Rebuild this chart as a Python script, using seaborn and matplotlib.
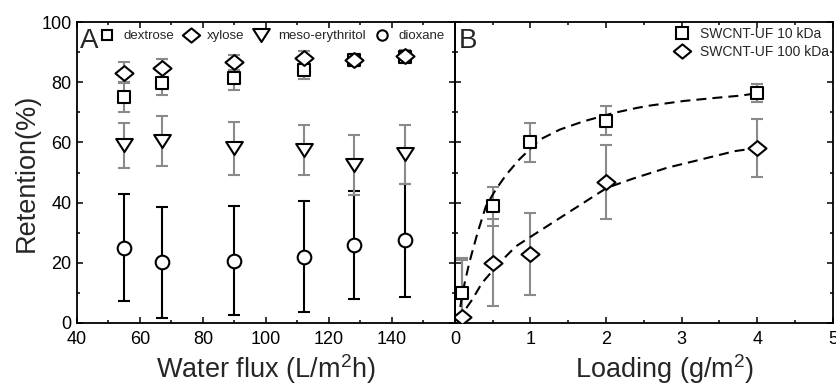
import numpy as np
import pandas as pd
import matplotlib
matplotlib.use("Agg")
import matplotlib.pyplot as plt
import seaborn as sns
from matplotlib.path import Path
from matplotlib.lines import Line2D
from matplotlib.ticker import MultipleLocator

# ---------------- data ----------------
flux = [55, 67, 90, 112, 128, 144]
dextrose = [75.0, 79.7, 81.5, 84.0, 87.4, 88.5]
dextrose_err = [5.0, 4.0, 4.0, 3.0, 2.0, 2.0]
xylose = [83.2, 84.7, 86.6, 88.0, 87.4, 88.9]
xylose_err = [3.5, 3.0, 2.5, 2.5, 2.0, 2.0]
erythritol = [59.0, 60.5, 58.0, 57.5, 52.5, 56.0]
erythritol_err = [7.5, 8.3, 8.7, 8.3, 10.0, 9.7]
dioxane = [25.0, 20.2, 20.7, 22.0, 26.0, 27.5]
dioxane_err = [17.7, 18.5, 18.2, 18.5, 18.0, 18.8]
solutes = ["dextrose", "xylose", "meso-erythritol", "dioxane"]

loading = [0.1, 0.5, 1, 2, 4]
uf10 = [10.0, 38.8, 60.1, 67.3, 76.5]
uf10_err = [11.5, 6.5, 6.5, 4.8, 3.1]
uf100 = [2.0, 20.0, 23.0, 46.8, 58.2]
uf100_err = [19.0, 14.5, 13.7, 12.2, 9.6]
membranes = ["SWCNT-UF 10 kDa", "SWCNT-UF 100 kDa"]

# dashed trend curves
curve10_x = [0.04, 0.10, 0.19, 0.30, 0.41, 0.54, 0.68, 0.85, 1.12, 1.39, 1.70, 2.10, 2.41, 2.59, 3.03, 3.48, 3.79, 4.00]
curve10_y = [0.0, 10.0, 20.0, 30.0, 38.8, 44.3, 49.3, 54.3, 60.9, 64.3, 67.0, 69.8, 71.5, 72.3, 73.8, 74.9, 75.6, 76.4]
curve100_x = [0.03, 0.23, 0.36, 0.59, 0.81, 1.08, 1.39, 1.70, 2.01, 2.36, 2.81, 3.25, 3.70, 4.01]
curve100_y = [0.5, 7.8, 13.3, 20.0, 25.5, 29.9, 34.9, 39.9, 44.9, 48.0, 51.6, 54.3, 57.1, 58.2]

# ---------------- style ----------------
sns.set_theme(style="ticks")
plt.rcParams["font.family"] = ["Liberation Sans", "DejaVu Sans"]
plt.rcParams["mathtext.default"] = "regular"
plt.rcParams["axes.linewidth"] = 1.3

diamond = Path([(-1, 0), (0, 0.82), (1, 0), (0, -0.82), (-1, 0)],
               [Path.MOVETO, Path.LINETO, Path.LINETO, Path.LINETO, Path.CLOSEPOLY])
tri_down = Path([(-1, 0.78), (1, 0.78), (0, -0.78), (-1, 0.78)],
                [Path.MOVETO, Path.LINETO, Path.LINETO, Path.CLOSEPOLY])

fig, (axA, axB) = plt.subplots(1, 2, figsize=(8.37, 3.89), dpi=100, sharey=True,
                               gridspec_kw=dict(wspace=0))
fig.subplots_adjust(left=0.092, right=0.995, top=0.943, bottom=0.170)
axB.set_facecolor("none")
axA.set_zorder(2)
axA.set_facecolor("none")

GRAY = "#8a8a8a"
EW = 1.5

def draw(ax, x, y, err, marker, size, ecolor):
    ax.errorbar(x, y, yerr=err, fmt="none", ecolor=ecolor, elinewidth=1.5,
                capsize=4.3, capthick=1.5, zorder=2)
    sns.scatterplot(x=x, y=y, ax=ax, marker=marker, s=size ** 2, color="white",
                    edgecolor="black", linewidth=EW, zorder=4, legend=False)

# Panel A
draw(axA, flux, dioxane, dioxane_err, "o", 9.8, "black")
draw(axA, flux, erythritol, erythritol_err, tri_down, 12.0, GRAY)
draw(axA, flux, dextrose, dextrose_err, "s", 8.0, GRAY)
draw(axA, flux, xylose, xylose_err, diamond, 13.0, GRAY)

# Panel B
sns.lineplot(x=curve10_x, y=curve10_y, ax=axB, color="black", lw=1.5,
             linestyle=(0, (4.8, 2.9)), sort=False, zorder=3)
sns.lineplot(x=curve100_x, y=curve100_y, ax=axB, color="black", lw=1.5,
             linestyle=(0, (4.8, 2.9)), sort=False, zorder=3)
draw(axB, loading, uf10, uf10_err, "s", 9.0, GRAY)
draw(axB, loading, uf100, uf100_err, diamond, 13.0, GRAY)

# axes
for ax in (axA, axB):
    ax.set_ylim(0, 100)
    ax.yaxis.set_major_locator(MultipleLocator(20))
    ax.yaxis.set_minor_locator(MultipleLocator(10))
    ax.tick_params(which="both", direction="in", top=True, right=True,
                   colors="black", width=1.1, labelsize=13)
    ax.tick_params(which="major", length=4.5)
    ax.tick_params(which="minor", length=2.5)
    ax.tick_params(axis="x", pad=6)
    ax.tick_params(axis="y", pad=4)
    for s in ax.spines.values():
        s.set_color("black")
        s.set_linewidth(1.3)

axA.set_xlim(40, 160)
axA.set_xticks([40, 60, 80, 100, 120, 140, 160])
axA.set_xticklabels(["40", "60", "80", "100", "120", "140", ""])
axA.xaxis.set_minor_locator(MultipleLocator(10))
axB.set_xlim(0, 5)
axB.xaxis.set_major_locator(MultipleLocator(1))
axB.xaxis.set_minor_locator(MultipleLocator(0.5))
axB.tick_params(axis="y", labelleft=False)

axA.set_ylabel("Retention(%)", fontsize=19.5, labelpad=1)
axA.set_xlabel("Water flux (L/m$^2$h)", fontsize=19.5, labelpad=3)
axB.set_xlabel("Loading (g/m$^2$)", fontsize=19.5, labelpad=3)
axB.set_ylabel("")
axB.xaxis.label.set_x(0.556)

axA.text(0.008, 0.9136, "A", transform=axA.transAxes, fontsize=20, va="baseline", ha="left")
axB.text(0.010, 0.9136, "B", transform=axB.transAxes, fontsize=20, va="baseline", ha="left")

def handle(marker, ms):
    return Line2D([], [], linestyle="none", marker=marker, markersize=ms,
                  markerfacecolor="white", markeredgecolor="black", markeredgewidth=EW)

hA = [handle("s", 7.5), handle(diamond, 12.5), handle(tri_down, 12.0), handle("o", 7.5)]
legA = axA.legend(hA, solutes, ncol=4, loc="center left", bbox_to_anchor=(0.062, 0.953),
                  frameon=False, fontsize=9.5, handlelength=1.0, handletextpad=0.75,
                  columnspacing=0.75, borderpad=0, borderaxespad=0)
legA.set_zorder(10)

hB = [handle("s", 8.0), handle(diamond, 12.5)]
axB.legend(hB, membranes, loc="upper right", bbox_to_anchor=(0.99, 0.985),
           frameon=False, fontsize=10, handlelength=1.0, handletextpad=0.8,
           labelspacing=0.3, borderpad=0, borderaxespad=0)

fig.savefig("out.png", dpi=100)
